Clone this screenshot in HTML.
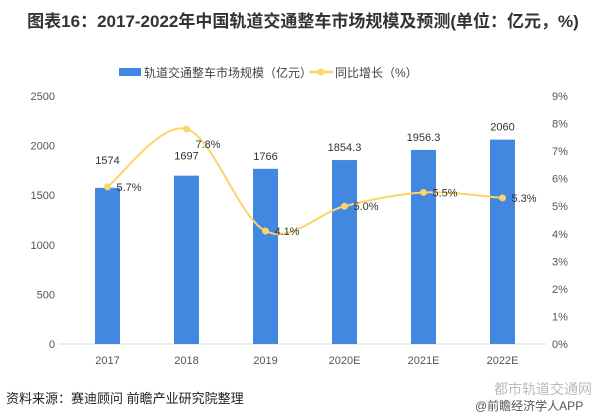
<!DOCTYPE html>
<html><head><meta charset="utf-8">
<style>
body{margin:0;background:#fff;}
svg{display:block;font-family:"Liberation Sans","Noto Sans CJK SC",sans-serif;}
</style></head><body>
<svg id="c" width="606" height="420">
<text x="303" y="27" text-anchor="middle" font-size="17" font-weight="bold" fill="#333">图表16：2017-2022年中国轨道交通整车市场规模及预测(单位：亿元，%)</text>
<g>
<rect x="119" y="68" width="22" height="8" fill="#4287e0"/>
<text x="144" y="77" font-size="12" fill="#444">轨道交通整车市场规模（亿元）</text>
<line x1="309" y1="72" x2="333" y2="72" stroke="#fcd467" stroke-width="2.5"/>
<circle cx="321" cy="72" r="3.5" fill="#fcd467"/>
<text x="335" y="77" font-size="12" fill="#444">同比增长（%）</text>
</g>
<g id="axes"></g><g id="bars"></g><g id="line"></g>
<text x="6" y="403" font-size="13" fill="#222">资料来源：赛迪顾问 前瞻产业研究院整理</text>
<text x="494" y="394" font-size="14" fill="#bbb">都市轨道交通网</text>
<text x="475" y="410" font-size="12" fill="#555">@前瞻经济学人APP</text>
</svg>
<script>
const categories=["2017","2018","2019","2020E","2021E","2022E"];
const values=[1574,1697,1766,1854.3,1956.3,2060];
const growth=[5.7,7.8,4.1,5.0,5.5,5.3];
const leftTicks=[0,500,1000,1500,2000,2500];
const rightTicks=[0,1,2,3,4,5,6,7,8,9];
const NS="http://www.w3.org/2000/svg";
const x0=68,step=79,yb=344,yt=96;
const xc=i=>x0+step*(i+0.5);
const yL=v=>yb-(v/2500)*(yb-yt);
const yR=v=>yb-(v/9)*(yb-yt);
function mk(t,a,p){const e=document.createElementNS(NS,t);for(const k in a)e.setAttribute(k,a[k]);p.appendChild(e);return e;}
const ax=document.getElementById('axes'),bg=document.getElementById('bars'),lg=document.getElementById('line');
const base=mk('line',{x1:58,x2:546,y1:yb,y2:yb,stroke:'#d9d9d9'},ax);


leftTicks.forEach(v=>{const t=mk('text',{x:55,y:yL(v)+4,'text-anchor':'end','font-size':11,fill:'#555'},ax);t.textContent=v;

});
rightTicks.forEach(v=>{const t=mk('text',{x:552,y:yR(v)+4,'font-size':11,fill:'#555'},ax);t.textContent=v+'%';

});
categories.forEach((c,i)=>{const t=mk('text',{x:xc(i),y:364,'text-anchor':'middle','font-size':11,fill:'#555'},ax);t.textContent=c;


const r=mk('rect',{x:xc(i)-12.5,y:yL(values[i]),width:25,height:yb-yL(values[i]),fill:'#4287e0'},bg);


let ly=yL(values[i])-9;
if(i===0)ly=Math.min(ly,yR(growth[i])-23);
if(i===1)ly=yL(values[i])-16;
const l=mk('text',{x:xc(i),y:ly,'text-anchor':'middle','font-size':11,fill:'#333'},bg);l.textContent=values[i];

});
const pts=growth.map((g,i)=>[xc(i),yR(g)]);
let d='M'+pts[0][0]+','+pts[0][1];
for(let i=0;i<pts.length-1;i++){const p0=pts[Math.max(0,i-1)],p1=pts[i],p2=pts[i+1],p3=pts[Math.min(pts.length-1,i+2)];
const c1=[p1[0]+(p2[0]-p0[0])/6,p1[1]+(p2[1]-p0[1])/6],c2=[p2[0]-(p3[0]-p1[0])/6,p2[1]-(p3[1]-p1[1])/6];
d+=` C${c1[0]},${c1[1]} ${c2[0]},${c2[1]} ${p2[0]},${p2[1]}`;}
const path=mk('path',{d:d,fill:'none',stroke:'#fcd467','stroke-width':2},lg);


pts.forEach((p,i)=>{const c=mk('circle',{cx:p[0],cy:p[1],r:3.5,fill:'#fcd467'},lg);


const dy=i===1?19:4;
const t=mk('text',{x:p[0]+9,y:p[1]+dy,'font-size':11,fill:'#333'},lg);t.textContent=growth[i].toFixed(1)+'%';

});
</script>
</body></html>
